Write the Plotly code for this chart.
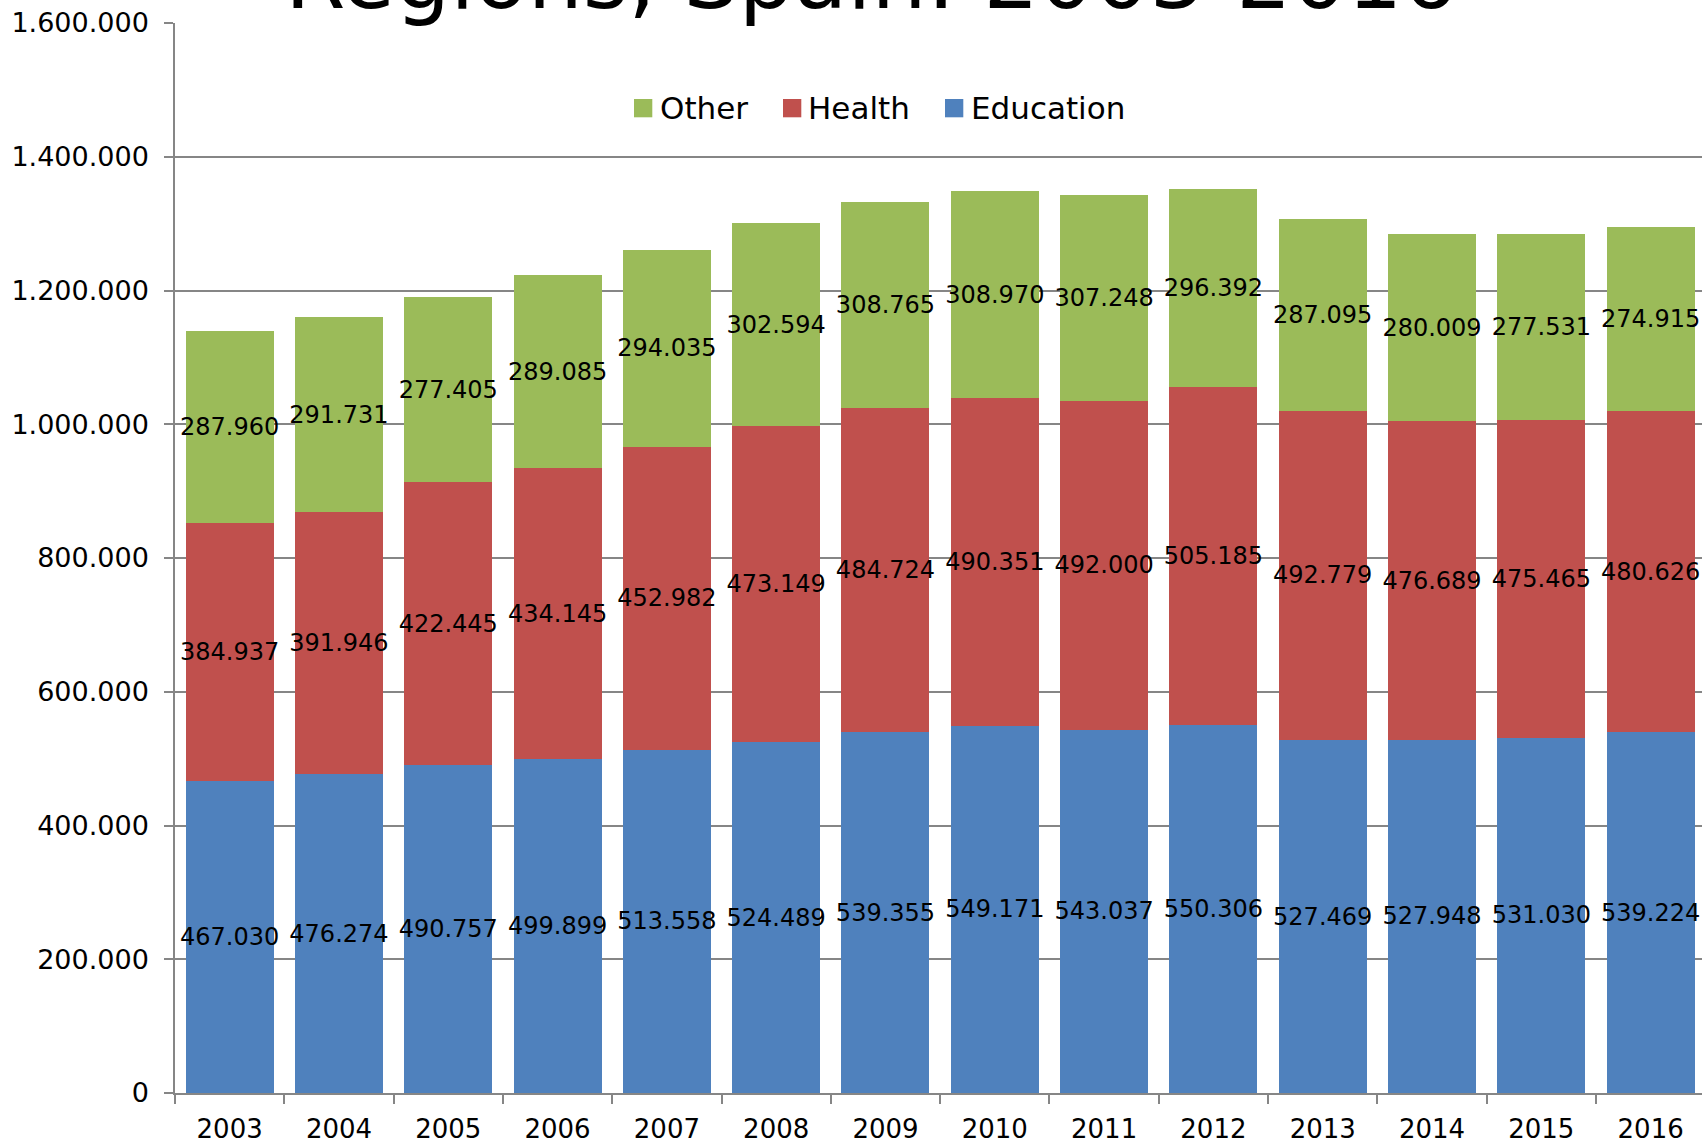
import plotly.graph_objects as go

# Public employees of the Spanish Autonomous Regions, by sector
years = ["2003", "2004", "2005", "2006", "2007", "2008", "2009",
         "2010", "2011", "2012", "2013", "2014", "2015", "2016"]

education = [467030, 476274, 490757, 499899, 513558, 524489, 539355,
             549171, 543037, 550306, 527469, 527948, 531030, 539224]
health = [384937, 391946, 422445, 434145, 452982, 473149, 484724,
          490351, 492000, 505185, 492779, 476689, 475465, 480626]
other = [287960, 291731, 277405, 289085, 294035, 302594, 308765,
         308970, 307248, 296392, 287095, 280009, 277531, 274915]

y_ticks = [0, 200000, 400000, 600000, 800000, 1000000, 1200000, 1400000, 1600000]

FONT = "DejaVu Sans"
GRID = "#868686"

W, H = 1702, 1143
M_L, M_R, M_T, M_B = 175, 0, 23, 50
PLOT_W = W - M_L - M_R
PLOT_H = H - M_T - M_B


def px_x(x):
    """Page pixel column -> paper x."""
    return (x - M_L) / PLOT_W


def px_y(y):
    """Page pixel row -> paper y."""
    return (H - M_B - y) / PLOT_H


series = [
    ("Education", education, "#4F81BD"),
    ("Health", health, "#C0504D"),
    ("Other", other, "#9BBB59"),
]

fig = go.Figure()
for name, values, color in series:
    fig.add_trace(go.Bar(
        x=years,
        y=values,
        name=name,
        marker=dict(color=color, line=dict(width=0)),
        texttemplate="%{y:,.0f}",
        textposition="inside",
        insidetextanchor="middle",
        constraintext="none",
        textangle=0,
        insidetextfont=dict(family=FONT, size=24, color="#000000"),
        hoverinfo="x+y+name",
        showlegend=False,
    ))

# Legend row: coloured square followed by the series name
legend_items = [
    ("Other", "#9BBB59", 634, 659),
    ("Health", "#C0504D", 783, 807),
    ("Education", "#4F81BD", 945, 970),
]
SQ = 18.3
SQ_TOP = 99
for label, color, sq_x, txt_x in legend_items:
    fig.add_shape(
        type="rect", xref="paper", yref="paper",
        x0=px_x(sq_x), x1=px_x(sq_x + SQ),
        y0=px_y(SQ_TOP + SQ), y1=px_y(SQ_TOP),
        fillcolor=color, line=dict(width=0), layer="above",
    )
    fig.add_annotation(
        text=label, xref="paper", yref="paper",
        x=px_x(txt_x - 1), y=px_y(107.8),
        xanchor="left", yanchor="middle",
        showarrow=False,
        font=dict(family=FONT, size=31, color="#000000"),
    )

fig.add_annotation(
    text="Regions, Spain: 2003-2016",
    xref="paper", yref="paper",
    x=px_x(871), y=px_y(31),
    xanchor="center", yanchor="bottom",
    showarrow=False,
    font=dict(family=FONT, size=87, color="#000000"),
)

fig.update_layout(
    width=W,
    height=H,
    margin=dict(l=M_L, r=M_R, t=M_T, b=M_B, pad=0),
    paper_bgcolor="#FFFFFF",
    plot_bgcolor="#FFFFFF",
    barmode="stack",
    bargap=0.195,
    separators=",.",
    font=dict(family=FONT, size=26, color="#000000"),
    showlegend=False,
    xaxis=dict(
        type="category",
        range=[-0.5, 13.47],
        showline=True, linecolor=GRID, linewidth=1.5,
        ticks="outside", ticklen=9, tickwidth=1.5, tickcolor=GRID,
        tickson="boundaries",
        ticklabelstandoff=12,
        showgrid=False,
        tickfont=dict(family=FONT, size=26, color="#000000"),
    ),
    yaxis=dict(
        range=[0, 1600000],
        tickvals=y_ticks,
        tickformat=",.0f",
        showline=True, linecolor=GRID, linewidth=1.5,
        ticks="outside", ticklen=9, tickwidth=1.5, tickcolor=GRID,
        ticklabelstandoff=10,
        showgrid=True, gridcolor=GRID, gridwidth=1.5,
        zeroline=False,
        tickfont=dict(family=FONT, size=27, color="#000000"),
    ),
)

fig.write_html("out.html")
